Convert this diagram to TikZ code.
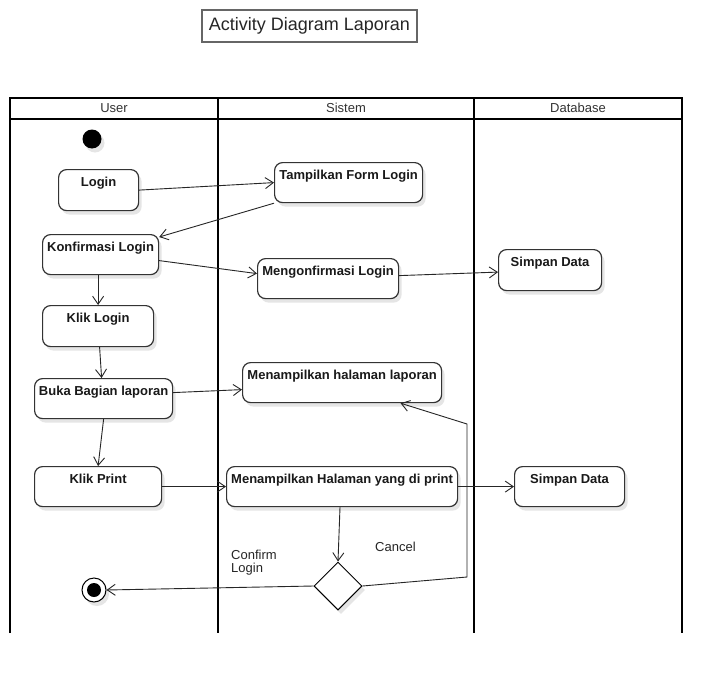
\documentclass[tikz,border=0pt]{standalone}
\usepackage{fontspec}
\setmainfont{Liberation Sans}
\usetikzlibrary{arrows.meta,shapes.geometric,shadows,calc}
\begin{document}
\begin{tikzpicture}[x=1pt,y=-1pt,
  lane/.style={line width=2pt,black},
  act/.style={draw=black!80,line width=1.2pt,rounded corners=8pt,fill=white,inner sep=0pt,
    drop shadow={shadow xshift=3pt,shadow yshift=-4pt,fill=black!10,opacity=1}},
  acttext/.style={font=\bfseries\fontsize{13}{15}\selectfont,text=black!90},
  flow/.style={draw=black!85,line width=0.9pt,-{Straight Barb[length=8pt,width=11pt]}},
  hdr/.style={font=\fontsize{13}{14}\selectfont,text=black!80},
  lbl/.style={font=\fontsize{13}{13}\selectfont,text=black!85,align=left}
]
\useasboundingbox (0,0) rectangle (722,674);
\fill[white] (0,0) rectangle (722,674);

% title
\node[draw=black!60,line width=1.3pt,minimum width=215pt,minimum height=32pt,inner sep=0pt,
  font=\fontsize{18}{20}\selectfont,text=black!85] (title) at (309.5,26) {Activity Diagram Laporan};

% swimlanes
\draw[lane] (10,633) -- (10,98) -- (682,98) -- (682,633);
\draw[lane] (10,119) -- (682,119);
\draw[lane] (218,98) -- (218,633);
\draw[lane] (474,98) -- (474,633);
\node[hdr] (hUser) at (114,108) {User};
\node[hdr] (hSistem) at (346,108) {Sistem};
\node[hdr] (hDb) at (578,108) {Database};

% start
\node[circle,fill=black,minimum size=19pt,inner sep=0pt,
  drop shadow={shadow xshift=3pt,shadow yshift=-4pt,fill=black!10,opacity=1}] (start) at (92,139) {};

% activities
\newcommand{\act}[6]{%
  \node[act,minimum width=#4pt,minimum height=#5pt,anchor=north west] (#1) at (#2,#3) {};
  \node[acttext,anchor=base] at ($(#1.north)+(0,17.5)$) {#6};}

\act{login}{58}{169}{80}{41}{Login}
\act{tampil}{274}{162}{148}{40}{Tampilkan Form Login}
\act{konf}{42}{234}{116}{40}{Konfirmasi Login}
\act{meng}{257}{258}{141}{40}{Mengonfirmasi Login}
\act{simpanA}{498}{249}{103}{41}{Simpan Data}
\act{kliklogin}{42}{305}{111}{41}{Klik Login}
\act{laporan}{242}{362}{199}{40}{Menampilkan halaman laporan}
\act{buka}{34}{378}{138}{40}{Buka Bagian laporan}
\act{klikprint}{34}{466}{127}{40}{Klik Print}
\act{print}{226}{466}{231}{40}{Menampilkan Halaman yang di print}
\act{simpanB}{514}{466}{110}{40}{Simpan Data}

% decision
\node[diamond,draw=black,line width=1pt,fill=white,minimum width=48pt,minimum height=48pt,inner sep=0pt,aspect=1,
  drop shadow={shadow xshift=3pt,shadow yshift=-4pt,fill=black!10,opacity=1}] (dec) at (338,586) {};

% end
\node[circle,draw=black,line width=1pt,fill=white,minimum size=24pt,inner sep=0pt,
  drop shadow={shadow xshift=3pt,shadow yshift=-4pt,fill=black!10,opacity=1}] (end) at (94,590) {};
\fill[black] (end.center) circle (7pt);

% loop coordinates
\coordinate (c1) at (467,577);
\coordinate (c2) at (467,424);

% flows
\draw[flow] (login.east) -- (tampil.west);
\draw[flow] (tampil.south west) -- ($(konf.north east)+(0,3)$);
\draw[flow] ($(konf.east)+(0,6)$) -- ($(meng.west)+(0,-5)$);
\draw[flow] (kliklogin.north |- konf.south) -- (kliklogin.north);
\draw[flow] ($(meng.east)+(0,-3)$) -- ($(simpanA.west)+(0,2)$);
\draw[flow] ($(kliklogin.south)+(1.5,0)$) -- ($(buka.north)+(-2,0)$);
\draw[flow] ($(buka.east)+(0,-6)$) -- ($(laporan.west)+(0,7)$);
\draw[flow] (buka.south) -- (klikprint.north);
\draw[flow] (klikprint.east) -- (print.west);
\draw[flow] (print.east) -- (simpanB.west);
\draw[flow] (print.south -| 340,0) -- (dec.north);
\draw[flow] (dec.east) -- (c1) -- (c2) -- ($(laporan.south)+(58.5,0)$);
\draw[flow] (dec.west) -- (end.east);

% guard labels
\node[lbl,anchor=north west,inner sep=0pt] (lconf) at (231,550) {Confirm\\Login};
\node[lbl,anchor=north west,inner sep=0pt] (lcancel) at (375,542) {Cancel};
\end{tikzpicture}
\end{document}
